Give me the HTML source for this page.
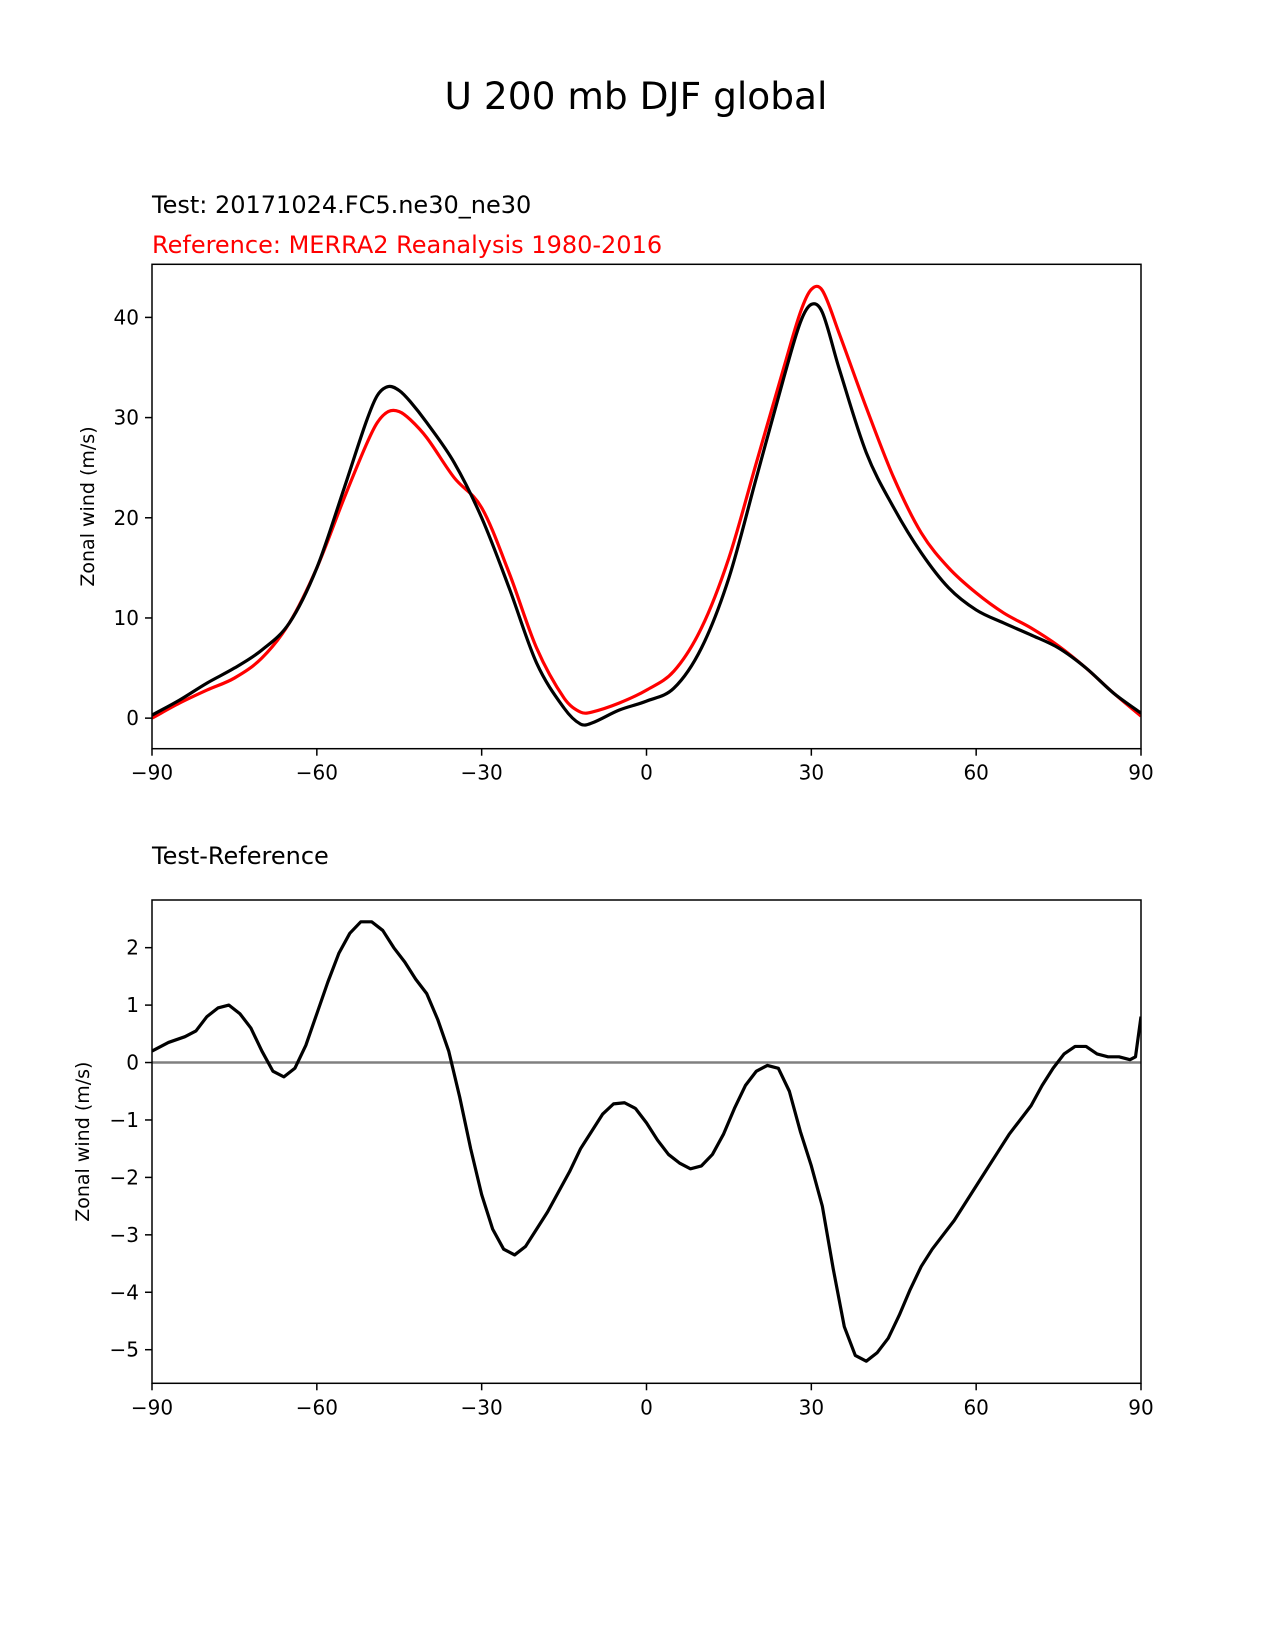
<!DOCTYPE html>
<html><head><meta charset="utf-8"><style>
html,body{margin:0;padding:0;background:#fff;}
svg{display:block;font-family:"DejaVu Sans","Liberation Sans",sans-serif;}
</style></head><body>
<svg id="fig" width="1275" height="1650" viewBox="0 0 1275 1650" xmlns="http://www.w3.org/2000/svg">
<rect width="1275" height="1650" fill="#fff"/>
<text x="636" y="109" font-size="37.5" text-anchor="middle">U 200 mb DJF global</text>
<text x="152" y="213" font-size="24">Test: 20171024.FC5.ne30_ne30</text>
<text x="152" y="253" font-size="24" fill="#ff0000">Reference: MERRA2 Reanalysis 1980-2016</text>
<text x="152" y="864" font-size="24">Test-Reference</text>
<g id="top"></g>
<g id="bot"></g>
</svg>
<script>
const lonTop = [-90,-85,-80,-75,-70,-65,-60,-55,-51,-49,-47,-45,-43,-40,-35,-30,-25,-20,-15,-12,-10,-5,0,5,10,15,20,25,28,30,32,35,40,45,50,55,60,65,70,75,80,85,90];
const testVals = [0.3,1.8,3.5,5.0,6.8,9.5,15.0,23.0,29.6,32.2,33.1,32.7,31.6,29.5,25.5,20.0,13.0,5.5,1.0,-0.6,-0.5,0.8,1.7,3.0,7.0,14.0,24.0,34.0,39.5,41.3,40.5,35.0,26.5,21.0,16.5,13.0,10.8,9.5,8.3,7.0,5.0,2.5,0.5];
const refVals = [0,1.5,2.8,4.0,6.0,9.5,15,22,27.3,29.5,30.6,30.6,29.8,28,24,21,14.5,7,2,0.6,0.6,1.5,2.8,4.7,9.0,16,25.5,35,40.5,42.8,42.7,38.5,31,24,18.5,15,12.5,10.5,9,7.2,5.0,2.5,0.2];
const lonDiff = [-90,-87,-84,-82,-80,-78,-76,-74,-72,-70,-68,-66,-64,-62,-60,-58,-56,-54,-52,-50,-48,-46,-44,-42,-40,-38,-36,-34,-32,-30,-28,-26,-24,-22,-20,-18,-16,-14,-12,-10,-8,-6,-4,-2,0,2,4,6,8,10,12,14,16,18,20,22,24,26,28,30,32,34,36,38,40,42,44,46,48,50,52,54,56,58,60,62,64,66,68,70,72,74,76,78,80,82,84,86,88,89,90];
const diffVals = [0.2,0.35,0.45,0.55,0.8,0.95,1.0,0.85,0.6,0.2,-0.15,-0.25,-0.1,0.3,0.85,1.4,1.9,2.25,2.45,2.45,2.3,2.0,1.75,1.45,1.2,0.75,0.2,-0.6,-1.5,-2.3,-2.9,-3.25,-3.35,-3.2,-2.9,-2.6,-2.25,-1.9,-1.5,-1.2,-0.9,-0.72,-0.7,-0.8,-1.05,-1.35,-1.6,-1.75,-1.85,-1.8,-1.6,-1.25,-0.8,-0.4,-0.15,-0.05,-0.1,-0.5,-1.2,-1.8,-2.5,-3.6,-4.6,-5.1,-5.2,-5.05,-4.8,-4.4,-3.95,-3.55,-3.25,-3.0,-2.75,-2.45,-2.15,-1.85,-1.55,-1.25,-1.0,-0.75,-0.4,-0.1,0.15,0.28,0.28,0.15,0.1,0.1,0.05,0.1,0.8];
const xTicks = [-90,-60,-30,0,30,60,90];
const xTickLabels = ['\u221290','\u221260','\u221230','0','30','60','90'];
const topYTicks = [0,10,20,30,40];
const botYTicks = [2,1,0,-1,-2,-3,-4,-5];

const NS='http://www.w3.org/2000/svg';
function mk(parent,tag,attrs){const e=document.createElementNS(NS,tag);for(const k in attrs)e.setAttribute(k,attrs[k]);parent.appendChild(e);return e;}
function smooth(pts){let d='M'+pts[0][0]+','+pts[0][1];for(let i=0;i<pts.length-1;i++){const p0=pts[Math.max(0,i-1)],p1=pts[i],p2=pts[i+1],p3=pts[Math.min(pts.length-1,i+2)];
const h=p2[0]-p1[0];const m1=(p2[1]-p0[1])/(p2[0]-p0[0]||1),m2=(p3[1]-p1[1])/(p3[0]-p1[0]||1);
d+=' C'+(p1[0]+h/3)+','+(p1[1]+m1*h/3)+' '+(p2[0]-h/3)+','+(p2[1]-m2*h/3)+' '+p2[0]+','+p2[1];}return d;}

function panel(g,top,bottom,ymin,ymax,yticks,ylabel,name){
  const L=152,R=1141;
  const sx=v=>L+(v+90)/180*(R-L);
  const sy=v=>bottom-(v-ymin)/(ymax-ymin)*(bottom-top);
  const cp=mk(g,'clipPath',{id:'clip'+name});mk(cp,'rect',{x:L,y:top,width:R-L,height:bottom-top});
  for(let i=0;i<xTicks.length;i++){
    const t=mk(g,'line',{x1:sx(xTicks[i]),x2:sx(xTicks[i]),y1:bottom,y2:bottom+7,stroke:'#000','stroke-width':1.5});
    
    
    const tx=mk(g,'text',{x:sx(xTicks[i]),y:bottom+31,'font-size':20,'text-anchor':'middle'});tx.textContent=xTickLabels[i];
    
    
  }
  for(const v of yticks){
    const t=mk(g,'line',{x1:L-7,x2:L,y1:sy(v),y2:sy(v),stroke:'#000','stroke-width':1.5});
    
    
    const tx=mk(g,'text',{x:L-13,y:sy(v)+7,'font-size':20,'text-anchor':'end'});tx.textContent=(v<0?'\u2212':'')+Math.abs(v);
    
    
  }
  const yl=mk(g,'text',{x:0,y:0,'font-size':19,'text-anchor':'middle',transform:'translate('+(name==='top'?94:89)+','+((top+bottom)/2)+') rotate(-90)'});
  yl.textContent=ylabel;
  
  
  return {sx,sy,L,R,top,bottom};
}
function frame(g,p){
  const f=mk(g,'rect',{x:p.L,y:p.top,width:p.R-p.L,height:p.bottom-p.top,fill:'none',stroke:'#000','stroke-width':1.5});
  
  
}
const gt=document.getElementById('top');
const pt=panel(gt,264.3,748.7,-3.05,45.3,topYTicks,'Zonal wind (m/s)','top');
const refPath=mk(gt,'path',{d:smooth(lonTop.map((l,i)=>[pt.sx(l),pt.sy(refVals[i])])),fill:'none',stroke:'#ff0000','stroke-width':3.2,'clip-path':'url(#cliptop)'});


const testPath=mk(gt,'path',{d:smooth(lonTop.map((l,i)=>[pt.sx(l),pt.sy(testVals[i])])),fill:'none',stroke:'#000','stroke-width':3.2,'clip-path':'url(#cliptop)'});


frame(gt,pt);

const gb=document.getElementById('bot');
const pb=panel(gb,900,1383.3,-5.585,2.83,botYTicks,'Zonal wind (m/s)','bot');
const zl=mk(gb,'line',{x1:pb.L,x2:pb.R,y1:pb.sy(0),y2:pb.sy(0),stroke:'#808080','stroke-width':2.5});


const dp=mk(gb,'polyline',{points:lonDiff.map((l,i)=>pb.sx(l)+','+pb.sy(diffVals[i])).join(' '),fill:'none',stroke:'#000','stroke-width':3.2,'stroke-linejoin':'round','clip-path':'url(#clipbot)'});


frame(gb,pb);
</script>
</body></html>
